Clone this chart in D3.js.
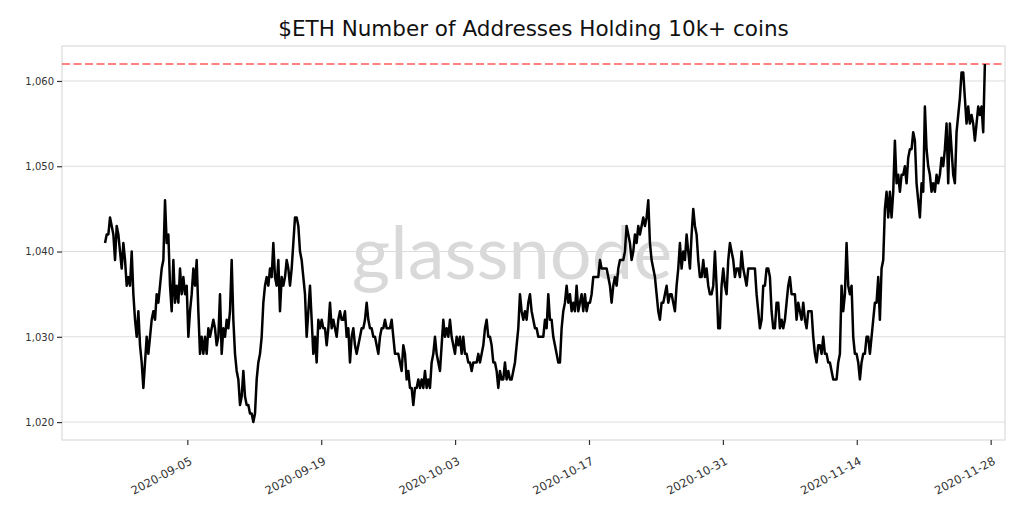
<!DOCTYPE html>
<html><head><meta charset="utf-8">
<script src="https://cdn.jsdelivr.net/npm/d3@7"></script>
<style>body{margin:0;background:#fff}svg{display:block}</style>
</head><body><svg id="chart" width="1024" height="512"></svg>
<script>
const chartTitle = "$ETH Number of Addresses Holding 10k+ coins";
const watermark = "glassnode";
const startTime = "2020-08-27T09:30:00Z";
const endTime = "2020-11-27T09:30:00Z";
const xDomain = ["2020-08-22T21:30:00Z", "2020-11-29T12:00:00Z"];
const yDomain = [1017.9, 1064.1];
const athLevel = 1062;
const yTickValues = [1020, 1030, 1040, 1050, 1060];
const xTickLabels = ["2020-09-05","2020-09-19","2020-10-03","2020-10-17","2020-10-31","2020-11-14","2020-11-28"];
const holders = [
1041,1042,1042,1044,1043,1042,1039,1043,1042,1040,
1038,1041,1039,1036,1037,1036,1040,1035,1032,1030,
1033,1029,1027,1024,1027,1030,1028,1030,1032,1033,
1032,1035,1034,1036,1038,1039,1046,1041,1042,1036,
1033,1039,1034,1036,1034,1038,1035,1037,1035,1036,
1030,1033,1035,1038,1036,1039,1033,1028,1030,1028,
1030,1028,1031,1030,1031,1032,1031,1029,1030,1035,
1028,1031,1030,1032,1031,1033,1039,1032,1028,1026,
1025,1022,1023,1026,
1023,1022,1022,1021,1021,1020,1021,1025,1027,1028,
1030,1034,1036,1037,1036,1038,1037,1041,1037,1036,
1039,1033,1037,1036,1037,1039,1038,1036,1038,1041,
1044,1044,1043,1040,1039,1037,1035,1030,1033,1036,
1032,1028,1030,1027,1032,1031,1032,1031,1031,1029,
1031,1034,1031,1032,1031,1030,1032,1033,1032,1032,
1033,1030,1031,1027,1030,1031,1029,1028,1029,1030,
1031,1031,1032,1034,1032,1031,1031,1030,1030,1029,
1028,1030,1031,1031,1032,1031,1031,
1031,1032,1030,1028,1028,1028,1027,1026,1029,1028,
1025,1026,1024,1024,1022,1024,1024,1025,1024,1025,
1024,1026,1024,1025,1024,1027,1028,1030,1028,1027,
1026,1029,1032,1030,1031,1030,1032,1030,1029,1028,
1030,1029,1030,1028,1030,1028,1028,1027,1027,1026,
1027,1027,1027,1028,1027,1028,1029,1031,1032,1030,
1030,1029,1027,1027,1026,1024,1026,1025,1025,1027,
1025,1026,1025,1025,1026,1027,1029,1031,1035,1033,
1032,1033,1032,1034,1035,1033,1032,
1031,1031,1030,1030,1030,1030,1032,1031,1035,1032,
1032,1030,1029,1028,1027,1027,1031,1033,1034,1036,
1034,1035,1033,1034,1033,1036,1033,1034,1035,1033,
1035,1033,1034,1034,1035,1037,1037,1037,1037,1039,
1038,1038,1038,1038,1037,1036,1034,1036,1037,1036,
1038,1039,1039,1039,1040,1043,1042,1041,1039,1040,
1042,1041,1043,1042,1043,1044,1043,1044,1046,1041,
1039,1038,1037,1035,1033,1032,1034,1034,1035,1036,
1034,1035,1035,1034,1033,1036,1038,
1041,1038,1040,1039,1042,1040,1038,1042,1045,1043,
1042,1039,1037,1037,1039,1037,1038,1036,1035,1035,
1036,1040,1036,1031,1031,1036,1038,1036,1035,1039,
1041,1040,1039,1037,1038,1038,1037,1040,1038,1037,
1036,1038,1038,1038,1038,1038,1035,1033,1031,1032,
1036,1036,1038,1038,1037,1033,1031,1031,1034,1034,
1031,1032,1031,1032,1034,1036,1037,1035,1035,1035,
1032,1034,1033,1032,1034,1032,1031,1033,1033,1033,
1030,1028,1027,1029,1029,1028,1030,
1028,1028,1027,1027,1026,1025,1025,1025,1027,1028,
1036,1033,1035,1041,1036,1035,1036,1030,1028,1028,
1027,1025,1027,1028,1028,1030,1030,1028,1030,1032,
1034,1034,1037,1032,1038,1039,1045,1047,1044,1047,
1044,1047,1053,1048,1049,1047,1049,1049,1050,1048,
1051,1052,1052,1054,1053,1048,1046,1044,1048,1047,
1057,1052,1050,1049,1047,1048,1047,1049,1048,1049,
1051,1050,1052,1055,1048,1055,1052,1049,1048,1054,
1056,1058,1061,1061,1058,1055,1057,1055,1056,1055,
1053,1055,1057,1056,1057,1054,1062
];

const t0 = new Date(startTime).getTime(), t1 = new Date(endTime).getTime();
const data = holders.map((v, i) => ({date: new Date(t0 + (t1 - t0) * i / (holders.length - 1)), value: v}));

const svg = d3.select("#chart");
const plot = {left: 62, right: 1005, top: 46, bottom: 440};
const x = d3.scaleUtc().domain(xDomain.map(d => new Date(d))).range([plot.left, plot.right]);
const y = d3.scaleLinear().domain(yDomain).range([plot.bottom, plot.top]);
const font = "DejaVu Sans, sans-serif";

// title
svg.append("text").attr("x", (plot.left + plot.right) / 2).attr("y", 36)
  .attr("text-anchor", "middle").attr("font-family", font).attr("font-size", 21.5)
  .attr("fill", "#111").text(chartTitle);

// watermark
svg.append("text").attr("x", 512).attr("y", 279).attr("text-anchor", "middle")
  .attr("font-family", "Lato, sans-serif").attr("font-size", 74)
  .attr("fill", "#000").attr("fill-opacity", 0.15).text(watermark);

// gridlines
svg.append("g").selectAll("line").data(yTickValues).join("line")
  .attr("x1", plot.left).attr("x2", plot.right)
  .attr("y1", d => y(d)).attr("y2", d => y(d))
  .attr("stroke", "#dcdcdc").attr("stroke-width", 1);

// frame
svg.append("rect").attr("x", plot.left).attr("y", plot.top)
  .attr("width", plot.right - plot.left).attr("height", plot.bottom - plot.top)
  .attr("fill", "none").attr("stroke", "#d4d4d4").attr("stroke-width", 1);

// y axis
const yAxis = d3.axisLeft(y).tickValues(yTickValues).tickFormat(d3.format(",")).tickSize(5).tickPadding(3);
const gy = svg.append("g").attr("transform", `translate(${plot.left},0)`).call(yAxis);
gy.select(".domain").remove();
gy.selectAll(".tick line").attr("stroke", "#333").attr("stroke-width", 1.2);
gy.selectAll(".tick text").attr("font-family", font).attr("font-size", 10).attr("fill", "#333");

// x axis
const xTickDates = xTickLabels.map(s => new Date(s + "T00:00:00Z"));
const xAxis = d3.axisBottom(x).tickValues(xTickDates).tickFormat(d3.utcFormat("%Y-%m-%d")).tickSize(5).tickPadding(3);
const gx = svg.append("g").attr("transform", `translate(0,${plot.bottom})`).call(xAxis);
gx.select(".domain").remove();
gx.selectAll(".tick line").attr("stroke", "#333").attr("stroke-width", 1.2);
gx.selectAll(".tick text").attr("font-family", font).attr("font-size", 11.5).attr("fill", "#333")
  .attr("text-anchor", "end").attr("y", null)
  .attr("transform", "translate(1,16) rotate(-28)").attr("dy", "0.75em");

// ATH line
svg.append("line").attr("x1", plot.left).attr("x2", plot.right)
  .attr("y1", y(athLevel)).attr("y2", y(athLevel))
  .attr("stroke", "#ff5a5a").attr("stroke-width", 1.5).attr("stroke-dasharray", "8,3.5");

// data line
svg.append("path").datum(data)
  .attr("fill", "none").attr("stroke", "#000").attr("stroke-width", 2.5)
  .attr("stroke-linejoin", "round")
  .attr("d", d3.line().x(d => x(d.date)).y(d => y(d.value)));
</script></body></html>
